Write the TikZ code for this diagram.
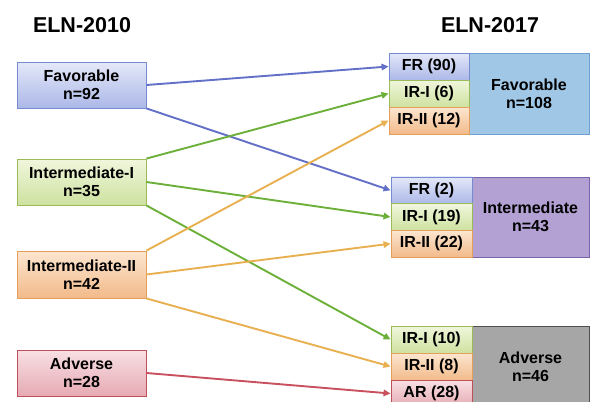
\documentclass[tikz,border=0pt]{standalone}
\usepackage{fontspec}
\setmainfont{Liberation Sans}
\usetikzlibrary{arrows.meta}
\definecolor{favT}{RGB}{228,232,248}
\definecolor{favB}{RGB}{172,184,232}
\definecolor{favD}{RGB}{118,138,208}
\definecolor{intT}{RGB}{240,246,220}
\definecolor{intB}{RGB}{206,226,160}
\definecolor{intD}{RGB}{155,187,89}
\definecolor{iiT}{RGB}{252,230,208}
\definecolor{iiB}{RGB}{242,186,138}
\definecolor{iiD}{RGB}{228,160,90}
\definecolor{advT}{RGB}{248,224,228}
\definecolor{advB}{RGB}{230,170,178}
\definecolor{advD}{RGB}{190,80,90}
\definecolor{bigFav}{RGB}{160,200,230}
\definecolor{bigFavD}{RGB}{110,160,210}
\definecolor{bigInt}{RGB}{178,161,210}
\definecolor{bigIntD}{RGB}{120,100,170}
\definecolor{bigAdv}{RGB}{166,166,166}
\definecolor{bigAdvD}{RGB}{80,80,80}
\definecolor{aBlue}{RGB}{98,112,200}
\definecolor{aGreen}{RGB}{108,176,58}
\definecolor{aOrange}{RGB}{232,176,80}
\definecolor{aRed}{RGB}{200,80,95}
\tikzset{
  box/.style={draw, line width=0.9pt, inner sep=0pt, align=center,
    font=\fontsize{16}{18}\selectfont\bfseries},
  favbox/.style={box, draw=favD, top color=favT, bottom color=favB},
  intbox/.style={box, draw=intD, top color=intT, bottom color=intB},
  iibox/.style={box, draw=iiD, top color=iiT, bottom color=iiB},
  advbox/.style={box, draw=advD, top color=advT, bottom color=advB},
  conn/.style={line width=1.9pt, -{Triangle[length=7pt,width=6.5pt]}},
  title/.style={font=\fontsize{21.5}{24}\selectfont\bfseries}
}
\begin{document}
\begin{tikzpicture}[x=1pt,y=-1pt]
\useasboundingbox (0,0) rectangle (590,402);
% titles
\node[title] (t1) at (82,25) {ELN-2010};
\node[title] (t2) at (490,25) {ELN-2017};
% left boxes
\node[favbox, minimum width=129pt, minimum height=46pt] (fav) at (81.5,85) {Favorable\\n=92};
\node[intbox, minimum width=129pt, minimum height=46pt] (i1) at (81.5,182) {Intermediate-I\\n=35};
\node[iibox, minimum width=129pt, minimum height=47pt] (i2) at (81.5,274.5) {Intermediate-II\\n=42};
\node[advbox, minimum width=129pt, minimum height=46pt] (adv) at (81.5,373) {Adverse\\n=28};
% right group 1
\node[box, draw=bigFavD, fill=bigFav, minimum width=120pt, minimum height=81pt] (rfav) at (529,93.5) {Favorable\\n=108};
\node[favbox, minimum width=80pt, minimum height=27pt] (fr90) at (429,66.5) {FR (90)};
\node[intbox, minimum width=80pt, minimum height=27pt] (ir6) at (429,93.5) {IR-I (6)};
\node[iibox, minimum width=80pt, minimum height=27pt] (irr12) at (429,120.5) {IR-II (12)};
% right group 2
\node[box, draw=bigIntD, fill=bigInt, minimum width=117pt, minimum height=80pt] (rint) at (530.5,217) {Intermediate\\n=43};
\node[favbox, minimum width=81pt, minimum height=26.7pt] (fr2) at (431.5,190.3) {FR (2)};
\node[intbox, minimum width=81pt, minimum height=26.7pt] (ir19) at (431.5,217) {IR-I (19)};
\node[iibox, minimum width=81pt, minimum height=26.7pt] (irr22) at (431.5,243.7) {IR-II (22)};
% right group 3
\node[box, draw=bigAdvD, fill=bigAdv, minimum width=117pt, minimum height=81pt] (radv) at (530.5,366.5) {Adverse\\n=46};
\node[intbox, minimum width=81pt, minimum height=27pt] (ir10) at (431.5,339.5) {IR-I (10)};
\node[iibox, minimum width=81pt, minimum height=27pt] (irr8) at (431.5,366.5) {IR-II (8)};
\node[advbox, minimum width=81pt, minimum height=27pt] (ar28) at (431.5,393.5) {AR (28)};
% connectors
\draw[conn, aBlue] (fav.east) -- (fr90.west);
\draw[conn, aBlue] (fav.south east) -- (fr2.west);
\draw[conn, aGreen] (i1.north east) -- (ir6.west);
\draw[conn, aGreen] (i1.east) -- (ir19.west);
\draw[conn, aGreen] (i1.south east) -- (ir10.west);
\draw[conn, aOrange] (i2.north east) -- (irr12.west);
\draw[conn, aOrange] (i2.east) -- (irr22.west);
\draw[conn, aOrange] (i2.south east) -- (irr8.west);
\draw[conn, aRed] (adv.east) -- (ar28.west);
\end{tikzpicture}
\end{document}
